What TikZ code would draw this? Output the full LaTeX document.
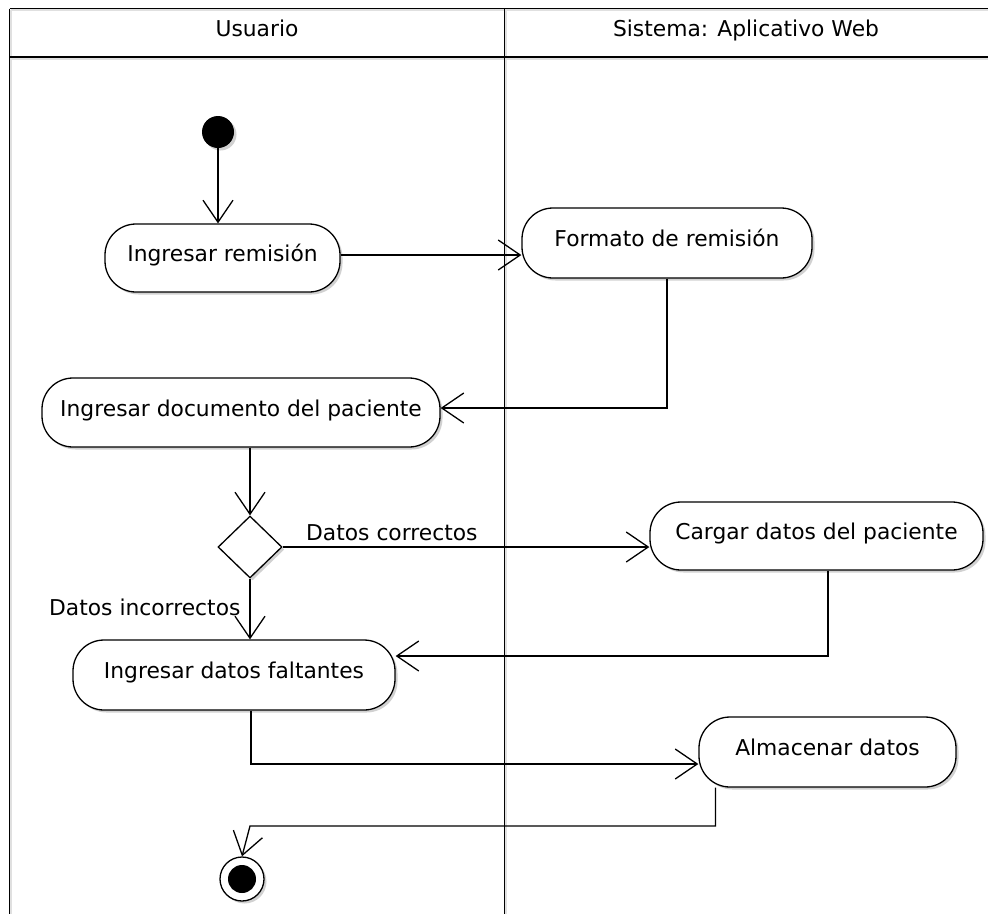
\documentclass[tikz,border=0pt]{standalone}
\usepackage{fontspec}
\setmainfont{DejaVu Sans}
\usetikzlibrary{arrows.meta,shapes.geometric,shadows}

\begin{document}
\begin{tikzpicture}[x=1pt,y=-1pt,
  font=\fontsize{21.8}{26}\selectfont,
  lane/.style={line width=1.5pt, draw=black},
  laneshade/.style={line width=2pt, draw=black!12},
  soft/.style={drop shadow={shadow xshift=2.5pt, shadow yshift=-2.5pt, opacity=0.18, fill=black}},
  activity/.style={draw, line width=1.3pt, rounded corners=31pt, fill=white, inner sep=0pt,
    text height=16pt, text depth=9pt, soft},
  header/.style={inner sep=0pt, text height=16pt, text depth=9pt},
  decision/.style={draw, diamond, line width=1.3pt, fill=white, inner sep=0pt,
    minimum width=64pt, minimum height=62pt, soft},
  flow/.style={line width=1.3pt, -{Straight Barb[length=22pt,width=30pt]}},
  guard/.style={inner sep=0pt, anchor=base west},
]
\useasboundingbox (0,0) rectangle (988,914);
\fill[white] (0,0) rectangle (988,914);

% swimlane frame with its soft shade
\draw[laneshade] (11,10) -- (988,10);
\draw[laneshade] (11,58.5) -- (988,58.5);
\draw[laneshade] (11,10) -- (11,914);
\draw[laneshade] (506,10) -- (506,914);
\draw[lane] (9.5,8.5) -- (988,8.5);
\draw[lane] (9.5,57) -- (988,57);
\draw[lane] (9.5,8.5) -- (9.5,914);
\draw[lane] (504.5,8.5) -- (504.5,914);

\node[header] (hUser) at (257,32.75) {Usuario};
\node[header] (hSys) at (746,32.75) {Sistema: Aplicativo Web};

% start and end
\node[circle, fill=black, minimum size=32pt, inner sep=0pt, soft] (init) at (218,132) {};
\node[circle, draw, line width=1.3pt, fill=white, minimum size=44pt, inner sep=0pt, soft] (final) at (242,879) {};
\node[circle, fill=black, minimum size=28pt, inner sep=0pt] (finalcore) at (final) {};

% activities
\node[activity, minimum width=235pt, minimum height=68pt] (remision) at (222.5,258) {Ingresar remisión};
\node[activity, minimum width=290pt, minimum height=70pt] (formato) at (667,243) {Formato de remisión};
\node[activity, minimum width=398pt, minimum height=69pt] (documento) at (241,412.5) {Ingresar documento del paciente};
\node[decision] (dec) at (250,547) {};
\node[activity, minimum width=333pt, minimum height=68pt] (cargar) at (816.5,536) {Cargar datos del paciente};
\node[activity, minimum width=322pt, minimum height=70pt] (faltantes) at (234,675) {Ingresar datos faltantes};
\node[activity, minimum width=257pt, minimum height=70pt] (almacenar) at (827.5,752) {Almacenar datos};

% guards
\node[guard] (gOk) at (306,540) {Datos correctos};
\node[guard] (gBad) at (49,615.5) {Datos incorrectos};

% control flow
\coordinate (endbend) at (250,826);
\draw[flow] (init.south) -- (init.south |- remision.north);
\draw[flow] ([yshift=3pt]remision.east) -- ([yshift=3pt]remision.east -| formato.west);
\draw[flow] (formato.south) |- ([yshift=4.5pt]documento.east);
\draw[flow] (dec.north |- documento.south) -- (dec.north);
\draw[flow] (dec.east) -- (dec.east -| cargar.west);
\draw[flow] (dec.south) -- (dec.south |- faltantes.north);
\draw[flow] ([xshift=11.5pt]cargar.south) |- ([yshift=19pt]faltantes.east);
\draw[flow] ([xshift=17pt]faltantes.south) |- ([yshift=-12pt]almacenar.west);
\draw[flow] ([xshift=-112pt]almacenar.south) |- (endbend) -- (final.north);
\end{tikzpicture}
\end{document}
